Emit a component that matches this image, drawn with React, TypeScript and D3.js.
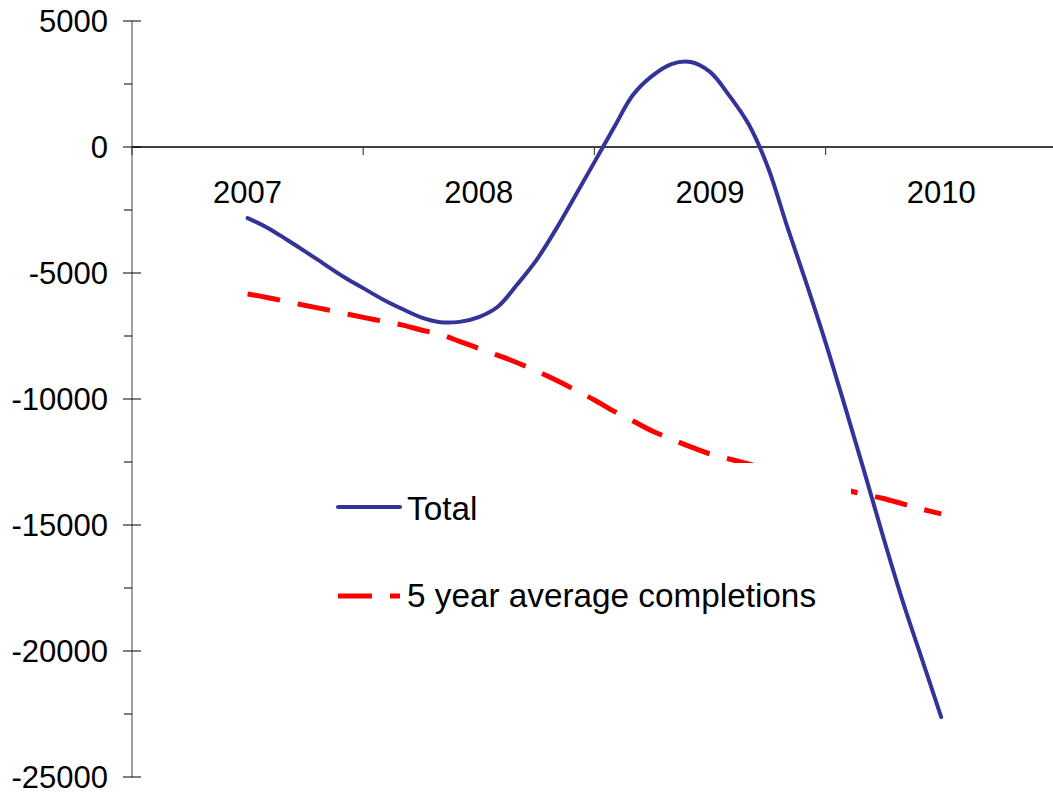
import { useMemo } from "react";
import * as d3 from "d3";

const WIDTH = 1053;
const HEIGHT = 794;

// category labels on the zero line
const years = ["2007", "2008", "2009", "2010"];
const yTicks = [5000, 0, -5000, -10000, -15000, -20000, -25000];

// monthly readings, Jan 2007 .. Jan 2010
const totalValues = [
    -2820, -3190, -3660, -4150, -4660, -5160, -5600, -6040, -6420, -6760, -6950, -6940,
    -6750, -6330, -5450, -4480, -3270, -1940, -600, 750, 2060, 2820, 3290, 3370,
    2980, 2040, 910, -790, -3140, -5400, -7760, -10280, -12860, -15500, -18020, -20320,
    -22620,
];
const averageValues = [
    -5830, -5970, -6130, -6290, -6440, -6600, -6760, -6910, -7060, -7260, -7440, -7710,
    -7990, -8270, -8560, -8890, -9250, -9640, -10040, -10480, -10870, -11270, -11590, -11900,
    -12180, -12380, -12580, -12780, -12980, -13170, -13370, -13600, -13780, -13950, -14160, -14370,
    -14560,
];

const seriesNames = ["Total", "5 year average completions"];

const AXIS_X = 132;
const FONT = '"Liberation Sans", Arial, sans-serif';

export default function App() {
    const yScale = useMemo(
        () => d3.scaleLinear().domain([-25000, 5000]).range([777, 21]),
        []
    );
    // one category = 231.2px, line points sit at monthly steps from the 2007 centre
    const catWidth = 231.2;
    const catScale = useMemo(
        () =>
            d3
                .scaleBand<string>()
                .domain(years)
                .range([AXIS_X, AXIS_X + catWidth * years.length]),
        []
    );
    const xScale = useMemo(
        () =>
            d3
                .scaleLinear()
                .domain([0, 36])
                .range([AXIS_X + catWidth / 2, AXIS_X + catWidth * 3.5]),
        []
    );

    const line = d3
        .line<number>()
        .x((_, i) => xScale(i))
        .y((d) => yScale(d))
        .curve(d3.curveCatmullRom);

    const totalPath = line(totalValues) || "";
    const avgPath = line(averageValues) || "";
    const y0 = yScale(0);

    const minorTicks = d3.range(-22500, 5000, 5000);

    return (
        <svg
            width={WIDTH}
            height={HEIGHT}
            style={{ position: "absolute", left: 0, top: 0, background: "#fff" }}
            fontFamily={FONT}
        >
            {/* y axis */}
            <line x1={AXIS_X} x2={AXIS_X} y1={yScale(5000)} y2={yScale(-25000)} stroke="#808080" strokeWidth={1.5} />
            {yTicks.map((t) => (
                <g key={t}>
                    <line x1={AXIS_X - 9} x2={AXIS_X + 9} y1={yScale(t)} y2={yScale(t)} stroke="#000" strokeWidth={1} />
                    <text x={108} y={yScale(t)} dy="0.35em" textAnchor="end" fontSize={31} fill="#000">
                        {t}
                    </text>
                </g>
            ))}
            {minorTicks.map((t) => (
                <line key={t} x1={AXIS_X - 8} x2={AXIS_X} y1={yScale(t)} y2={yScale(t)} stroke="#000" strokeWidth={1} />
            ))}

            {/* category axis on zero */}
            <line x1={AXIS_X} x2={WIDTH} y1={y0} y2={y0} stroke="#000" strokeWidth={1.5} />
            {years.map((yr) => (
                <line
                    key={"t" + yr}
                    x1={catScale(yr)!}
                    x2={catScale(yr)!}
                    y1={y0}
                    y2={y0 + 8}
                    stroke="#444"
                    strokeWidth={1.2}
                />
            ))}
            {years.map((yr) => (
                <text
                    key={yr}
                    x={catScale(yr)! + catScale.bandwidth() / 2}
                    y={203}
                    textAnchor="middle"
                    fontSize={31}
                    fill="#000"
                >
                    {yr}
                </text>
            ))}

            {/* series */}
            <path d={avgPath} fill="none" stroke="#FF0000" strokeWidth={5} strokeDasharray="33 18" />
            <path d={totalPath} fill="none" stroke="#333399" strokeWidth={4} strokeLinecap="round" />

            {/* legend, opaque box over the plot */}
            <g>
                <rect x={330} y={463} width={521} height={170} fill="#fff" />
                <line x1={338} x2={400} y1={507} y2={507} stroke="#333399" strokeWidth={4} strokeLinecap="round" />
                <text x={407} y={520} fontSize={33.3} fill="#000">
                    {seriesNames[0]}
                </text>
                <line x1={338} x2={400} y1={596} y2={596} stroke="#FF0000" strokeWidth={5} strokeDasharray="34 18" />
                <text x={407} y={607} fontSize={33.3} fill="#000">
                    {seriesNames[1]}
                </text>
            </g>
        </svg>
    );
}
